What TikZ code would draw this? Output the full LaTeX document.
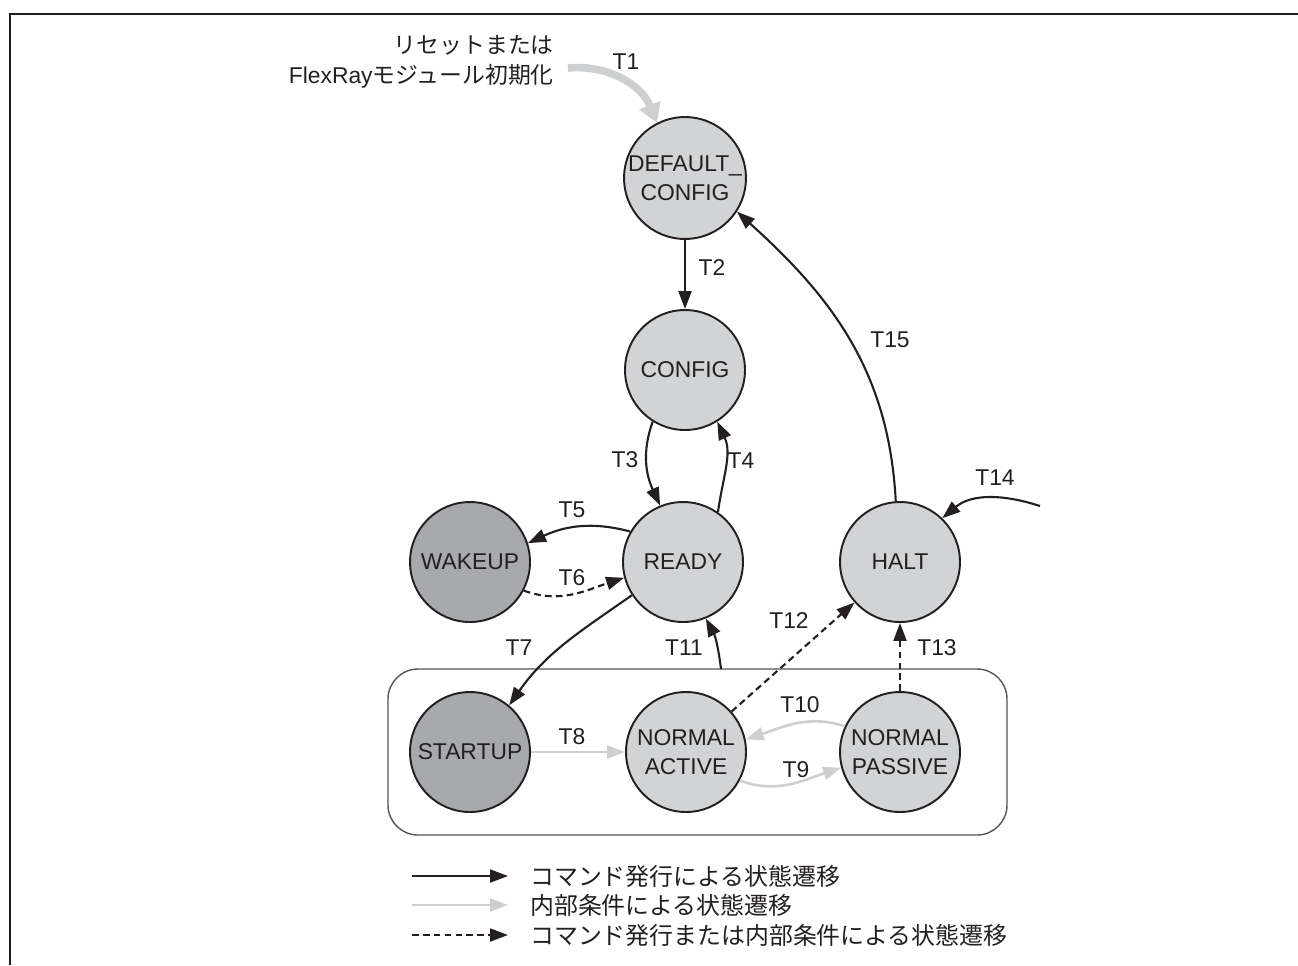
\documentclass[tikz,border=0pt]{standalone}
\usepackage{fontspec}
\setmainfont{Liberation Sans}
\newfontfamily\jpfont{Noto Sans CJK JP}
\usetikzlibrary{arrows.meta}
\definecolor{FrInk}{HTML}{231F20}
\definecolor{FrLight}{HTML}{D1D3D4}
\definecolor{FrDark}{HTML}{A7A9AC}
\definecolor{FrPale}{HTML}{CDCFD0}
\definecolor{FrFrame}{HTML}{555555}
\tikzset{
  fr/state/.style={
    circle, draw=FrInk, line width=1.1pt, fill=FrLight,
    minimum size=2.4cm, inner sep=0pt, text=FrInk,
    font=\fontsize{13}{16.5}\selectfont, align=center
  },
  fr/waiting/.style={fr/state, fill=FrDark},
  fr/cmd/.style={
    -{Triangle[length=3.6mm,width=2.6mm]}, line width=1.2pt, draw=FrInk
  },
  fr/internal/.style={
    -{Triangle[length=3.6mm,width=2.6mm]}, line width=1.5pt, draw=FrPale
  },
  fr/either/.style={fr/cmd, dash pattern=on 3.8pt off 2.4pt},
  fr/reset/.style={
    -{Triangle[length=3.8mm,width=4.4mm]}, line width=4.3pt, draw=FrPale
  },
  fr/label/.style={font=\fontsize{13}{15}\selectfont, text=FrInk},
  fr/legend/.style={font=\fontsize{13.6}{16}\jpfont, text=FrInk, anchor=west}
}
\begin{document}
\begin{tikzpicture}[x=0.02cm,y=-0.02cm]
  \useasboundingbox (0,0) rectangle (1298,965);
  \draw[FrInk,line width=1.3pt] (10,965) -- (10,14) -- (1298,14);
  % cluster of running states
  \draw[FrFrame,line width=.8pt,rounded corners=.6cm] (388,669) rectangle (1007,835);
  % states
  \node[fr/state] (dconfig) at (685,178) {DEFAULT\_\\CONFIG};
  \node[fr/state] (config) at (685,370) {CONFIG};
  \node[fr/state] (ready) at (683,562) {READY};
  \node[fr/waiting] (wakeup) at (470,562) {WAKEUP};
  \node[fr/state] (halt) at (900,562) {HALT};
  \node[fr/waiting] (startup) at (470,752) {STARTUP};
  \node[fr/state] (nactive) at (686,752) {NORMAL\\ACTIVE};
  \node[fr/state] (npassive) at (900,752) {NORMAL\\PASSIVE};
  \node[fr/label,anchor=east,align=right,font=\fontsize{13}{17}\selectfont] (resetnote) at (560,62)
    {{\jpfont リセットまたは}\\FlexRay{\jpfont モジュール初期化}};
  \coordinate (t1from) at (568,68);
  \coordinate (t11from) at (721,669);
  \coordinate (t14from) at (1040,506);
  % transitions
  \draw[fr/reset] (t1from) to[out=5,in=112] (dconfig.117);
  \draw[fr/cmd] (dconfig) -- (config);
  \draw[fr/cmd] (config.238) to[out=250,in=115] (ready.112);
  \draw[fr/cmd] (ready.55) to[out=82,in=-65] (config.302);
  \draw[fr/cmd] (ready.150) to[out=165,in=25] (wakeup.18);
  \draw[fr/either] (wakeup.332) to[out=-20,in=198] (ready.195);
  \draw[fr/cmd] (ready.213) to[out=215,in=55] (startup.50);
  \draw[fr/internal] (startup) -- (nactive);
  \draw[fr/internal] (nactive.332) to[out=-20,in=198] (npassive.195);
  \draw[fr/internal] (npassive.155) to[out=162,in=18] (nactive.12);
  \draw[fr/cmd] (t11from) to[out=97,in=-62] (ready.292);
  \draw[fr/either] (nactive) -- (halt);
  \draw[fr/either] (npassive) -- (halt);
  \draw[fr/cmd] (t14from) to[out=162,in=40] (halt.46);
  \draw[fr/cmd] (halt.94) to[out=93,in=-42] (dconfig.-33);
  % transition labels
  \foreach \lab/\x/\y in {T1/626/62,T2/712/268,T3/625/460,T4/741/461,
      T5/572/510,T6/572/578,T7/519/648,T8/572/737,T9/796/770,T10/800/705,
      T11/684/648,T12/789/621,T13/937/648,T14/995/478,T15/890/340}
    \node[fr/label] (lab\lab) at (\x,\y) {\lab};
  % legend
  \node[fr/legend] (lgcmd) at (524,876) {コマンド発行による状態遷移};
  \node[fr/legend] (lgint) at (524,905) {内部条件による状態遷移};
  \node[fr/legend] (lgboth) at (524,935) {コマンド発行または内部条件による状態遷移};
  \coordinate (lg1) at (412,876);
  \coordinate (lg2) at (412,905);
  \coordinate (lg3) at (412,935);
  \draw[fr/cmd,shorten >=.32cm] (lg1) -- (lgcmd.west);
  \draw[fr/internal,shorten >=.32cm] (lg2) -- (lgint.west);
  \draw[fr/either,shorten >=.32cm] (lg3) -- (lgboth.west);
\end{tikzpicture}
\end{document}
